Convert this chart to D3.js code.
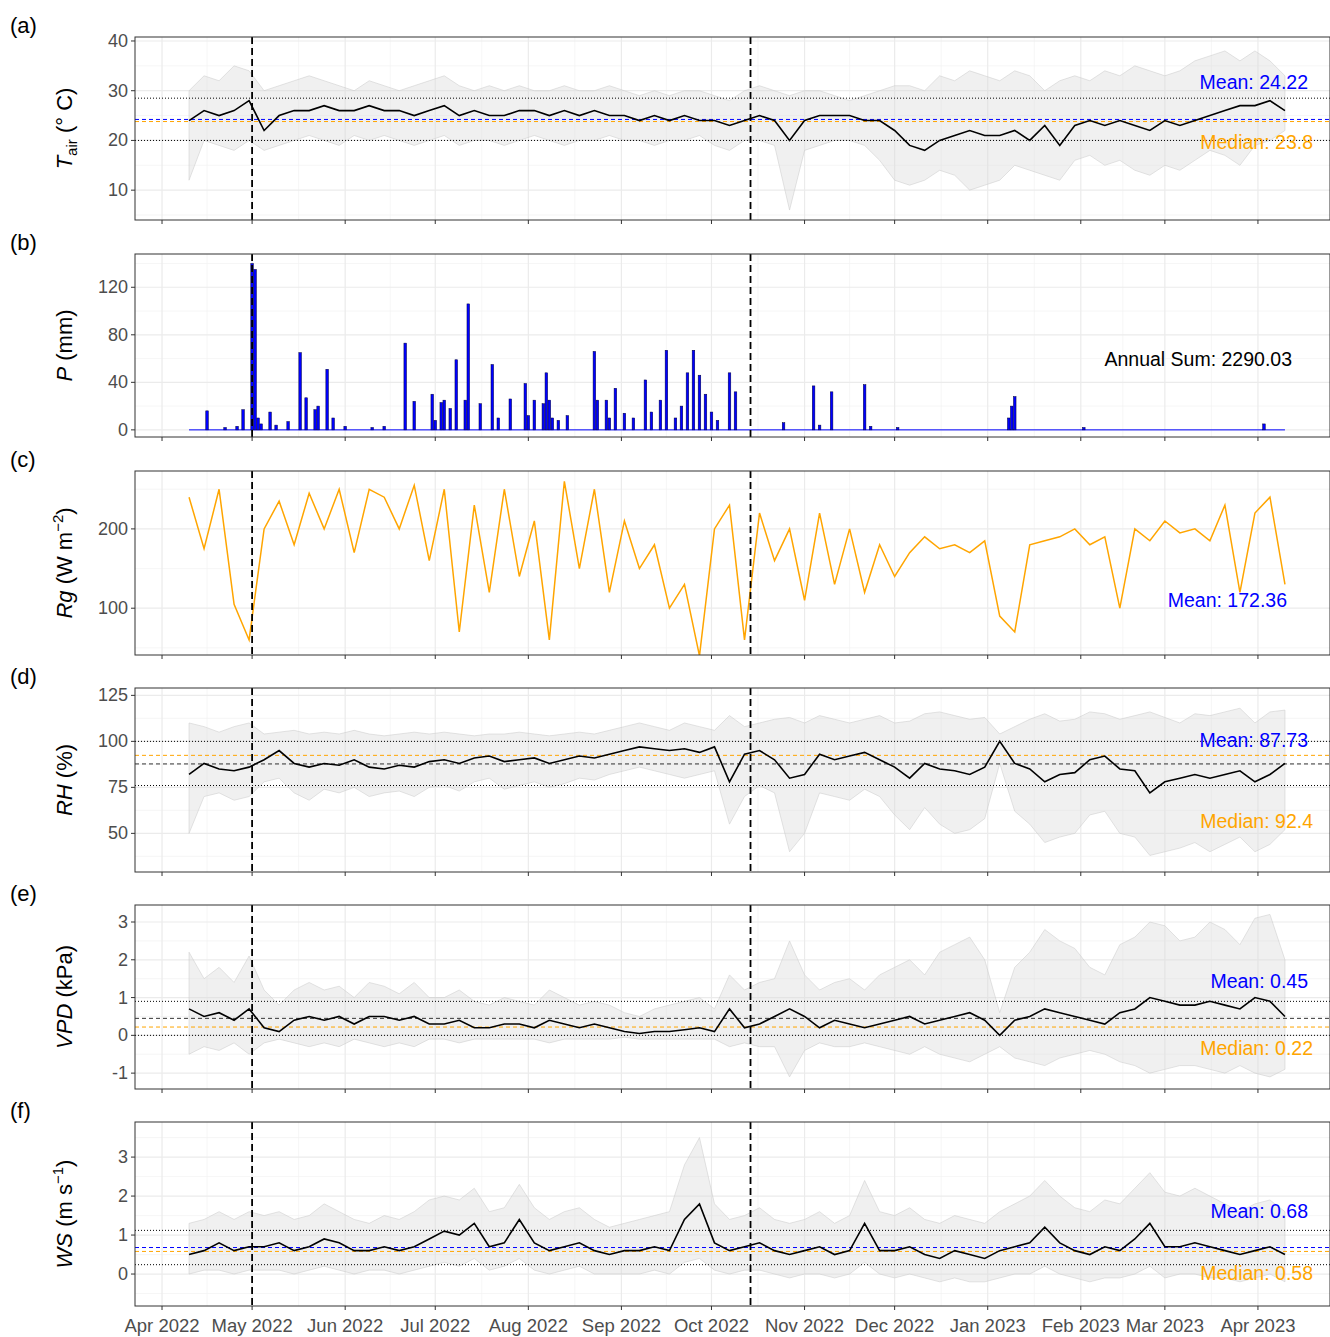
<!DOCTYPE html>
<html><head><meta charset="utf-8">
<script src="https://cdn.jsdelivr.net/npm/d3@7"></script>
<style>body{margin:0;background:#fff}text{font-family:Arial,"Liberation Sans",sans-serif}</style>
</head><body><svg id="c" width="1330" height="1337"></svg>
<script>
const startDate="2022-04-10", stepDays=5;
const tairMean=[24,26,25,26,28,22,25,26,26,27,26,26,27,26,26,25,26,27,25,26,25,25,26,26,25,26,25,26,25,25,24,25,24,25,24,24,23,24,25,24,20,24,25,25,25,24,24,22,19,18,20,21,22,21,21,22,20,23,19,23,24,23,24,23,22,24,23,24,25,26,27,27,28,26];
const tairHi=[30,33,32,35,34,30,31,32,33,32,31,30,32,31,30,31,32,33,31,30,31,30,31,30,30,31,30,30,31,30,29,30,29,30,30,29,28,30,31,30,29,30,30,29,28,29,30,31,31,30,33,32,34,33,32,34,33,30,32,33,32,34,33,35,34,33,34,36,37,38,36,38,36,33];
const tairLo=[12,20,19,18,20,18,19,20,21,20,19,21,20,21,20,19,20,21,19,20,20,19,20,21,20,19,20,20,21,20,20,19,20,20,21,19,18,20,20,19,6,18,19,20,20,19,16,12,11,12,14,13,10,11,12,15,14,13,12,16,17,15,16,14,13,15,14,16,18,17,15,19,20,22];
const rhMean=[82,88,85,84,86,90,95,88,86,88,87,90,86,85,87,86,89,90,88,91,92,89,90,91,88,90,92,91,93,95,97,96,95,96,94,97,78,93,95,90,80,82,93,90,92,94,90,86,80,88,85,84,82,86,100,88,85,78,82,83,90,92,85,84,72,78,80,82,80,82,84,78,82,88];
const rhHi=[110,108,105,108,110,104,105,106,104,105,104,106,104,103,104,105,104,105,104,103,104,104,105,104,103,104,105,104,106,108,110,108,106,110,108,106,114,108,110,112,113,110,114,112,110,112,114,110,111,115,116,114,112,113,104,108,112,115,111,112,116,115,112,114,116,113,110,115,114,116,118,110,116,117];
const rhLo=[50,70,72,68,70,78,80,72,68,74,72,75,70,72,73,70,75,76,73,78,80,74,76,78,75,77,80,79,82,84,86,84,82,80,82,84,55,70,76,72,40,50,72,70,68,74,70,60,52,64,55,50,52,58,88,62,55,45,48,50,60,62,50,48,38,40,42,45,40,44,48,40,44,52];
const vpdMean=[0.7,0.5,0.6,0.4,0.7,0.2,0.1,0.4,0.5,0.4,0.5,0.3,0.5,0.5,0.4,0.5,0.3,0.3,0.4,0.2,0.2,0.3,0.3,0.2,0.4,0.3,0.2,0.3,0.2,0.1,0.05,0.1,0.1,0.15,0.2,0.1,0.7,0.2,0.3,0.5,0.7,0.5,0.2,0.4,0.3,0.2,0.3,0.4,0.5,0.3,0.4,0.5,0.6,0.4,0.0,0.4,0.5,0.7,0.6,0.5,0.4,0.3,0.6,0.7,1.0,0.9,0.8,0.8,0.9,0.8,0.7,1.0,0.9,0.5];
const vpdHi=[2.2,1.5,1.8,1.4,2.1,1.2,0.8,1.2,1.4,1.2,1.3,1.0,1.4,1.3,1.1,1.4,1.0,1.0,1.2,0.9,0.8,1.0,0.9,0.8,1.2,1.0,0.8,0.9,0.8,0.6,0.5,0.7,0.8,0.9,1.0,0.7,1.6,1.2,1.4,1.5,2.5,1.6,1.2,1.4,1.5,1.2,1.6,1.8,2.0,1.6,2.2,2.4,2.6,2.0,0.6,1.8,2.2,2.8,2.5,2.3,1.8,1.6,2.4,2.6,3.0,2.9,2.5,2.6,3.0,2.8,2.4,3.1,3.2,2.0];
const vpdLo=[-0.5,-0.3,-0.4,-0.2,-0.5,-0.2,-0.1,-0.2,-0.3,-0.2,-0.3,-0.1,-0.2,-0.3,-0.2,-0.3,-0.1,-0.1,-0.2,-0.1,-0.1,-0.1,-0.1,-0.1,-0.2,-0.1,-0.1,-0.1,-0.1,-0.05,-0.1,-0.1,-0.1,-0.1,-0.1,-0.1,-0.3,-0.2,-0.3,-0.3,-1.1,-0.4,-0.2,-0.3,-0.3,-0.2,-0.3,-0.4,-0.5,-0.3,-0.5,-0.6,-0.7,-0.5,-0.3,-0.6,-0.7,-0.8,-0.6,-0.5,-0.4,-0.5,-0.7,-0.8,-1.0,-0.9,-0.8,-0.8,-0.9,-1.0,-0.8,-1.0,-1.1,-0.9];
const wsMean=[0.5,0.6,0.8,0.6,0.7,0.7,0.8,0.6,0.7,0.9,0.8,0.6,0.6,0.7,0.6,0.7,0.9,1.1,1.0,1.3,0.7,0.8,1.4,0.8,0.6,0.7,0.8,0.6,0.5,0.6,0.6,0.7,0.6,1.4,1.8,0.8,0.6,0.7,0.8,0.6,0.5,0.6,0.7,0.5,0.6,1.3,0.6,0.6,0.7,0.5,0.4,0.6,0.5,0.4,0.6,0.7,0.8,1.2,0.8,0.6,0.5,0.7,0.6,0.9,1.3,0.7,0.7,0.8,0.7,0.6,0.5,0.6,0.7,0.5];
const wsHi=[1.3,1.4,1.6,1.4,1.6,1.5,1.6,1.4,1.5,1.8,1.6,1.4,1.3,1.5,1.4,1.6,1.9,2.0,1.9,2.2,1.6,1.7,2.3,1.7,1.4,1.6,1.7,1.4,1.2,1.3,1.4,1.5,1.6,2.8,3.5,1.8,1.4,1.5,1.7,1.4,1.3,1.4,1.6,1.3,1.5,2.4,1.6,1.5,1.7,1.4,1.3,1.5,1.4,1.3,1.6,1.8,2.0,2.4,2.0,1.7,1.6,1.9,1.8,2.2,2.6,2.1,2.0,2.2,2.0,1.8,1.6,1.8,1.9,1.6];
const wsLo=[0.0,0.1,0.1,0.0,0.1,0.1,0.1,0.0,0.1,0.2,0.1,0.0,0.1,0.1,0.0,0.1,0.2,0.3,0.2,0.4,0.1,0.2,0.4,0.1,0.0,0.1,0.2,0.0,0.0,0.0,0.0,0.1,0.0,0.3,0.4,0.1,0.0,0.1,0.1,0.0,-0.1,0.0,0.0,-0.1,0.0,0.3,0.0,-0.1,0.0,-0.1,-0.2,-0.1,-0.2,-0.2,-0.1,0.0,0.0,0.2,0.0,-0.1,-0.2,-0.1,-0.1,0.0,0.2,-0.1,0.0,0.0,-0.1,-0.1,-0.2,-0.1,0.0,-0.2];
const rg=[240,175,250,105,60,200,235,180,245,200,250,170,250,240,200,255,160,250,70,230,120,250,140,210,60,260,150,250,120,210,150,180,100,130,40,200,230,60,220,160,200,110,220,130,200,120,180,140,170,190,175,180,170,185,90,70,180,185,190,200,180,190,100,200,185,210,195,200,185,230,120,220,240,130];
const precipDates=["2022-04-16","2022-04-22","2022-04-26","2022-04-28","2022-05-01","2022-05-02","2022-05-03","2022-05-04","2022-05-07","2022-05-09","2022-05-13","2022-05-17","2022-05-19","2022-05-22","2022-05-23","2022-05-26","2022-05-28","2022-06-01","2022-06-10","2022-06-14","2022-06-21","2022-06-24","2022-06-30","2022-07-01","2022-07-03","2022-07-04","2022-07-06","2022-07-08","2022-07-11","2022-07-12","2022-07-16","2022-07-20","2022-07-22","2022-07-26","2022-07-31","2022-08-01","2022-08-03","2022-08-06","2022-08-07","2022-08-08","2022-08-09","2022-08-11","2022-08-14","2022-08-23","2022-08-24","2022-08-27","2022-08-28","2022-08-30","2022-09-02","2022-09-05","2022-09-09","2022-09-11","2022-09-14","2022-09-16","2022-09-19","2022-09-21","2022-09-23","2022-09-25","2022-09-27","2022-09-29","2022-10-01","2022-10-03","2022-10-07","2022-10-09","2022-10-25","2022-11-04","2022-11-06","2022-11-10","2022-11-21","2022-11-23","2022-12-02","2023-01-08","2023-01-09","2023-01-10","2023-02-02","2023-04-03"];
const precipVals=[16,2,3,17,140,135,10,5,15,4,7,65,27,17,20,51,10,3,2,3,73,24,30,8,23,25,18,59,25,106,22,55,10,26,39,12,25,22,48,25,10,8,12,66,25,25,10,35,14,10,42,15,25,67,10,20,48,67,46,30,15,8,48,32,6,37,4,32,38,3,2,10,20,28,2,5];
const monthTicks=["2022-04-01","2022-05-01","2022-06-01","2022-07-01","2022-08-01","2022-09-01","2022-10-01","2022-11-01","2022-12-01","2023-01-01","2023-02-01","2023-03-01","2023-04-01"];
const monthLabels=["Apr 2022","May 2022","Jun 2022","Jul 2022","Aug 2022","Sep 2022","Oct 2022","Nov 2022","Dec 2022","Jan 2023","Feb 2023","Mar 2023","Apr 2023"];
const vlines=["2022-05-01","2022-10-14"];

const P=d3.timeParse("%Y-%m-%d");
const dates=tairMean.map((_,i)=>d3.timeDay.offset(P(startDate),i*stepDays));
const svg=d3.select("#c");
const L=135,R=1330;
const x=d3.scaleTime().domain([P("2022-03-23"),P("2023-04-25")]).range([L,R]);
const panels=[
 {lab:"(a)",top:37,bot:220,dom:[4,40.8],ticks:[10,20,30,40],mean:tairMean,hi:tairHi,lo:tairLo,
  hl:[[28.5,"#000","1,2"],[20,"#000","1,2"],[23.8,"orange","4,3"],[24.22,"blue","4,3"]],
  txt:[["Mean: 24.22","blue",-37],["Median: 23.8","orange",23]],ylab:[["T","i"],["air","sub"],[" (° C)",""]]},
 {lab:"(b)",top:254,bot:437,dom:[-6,148],ticks:[0,40,80,120],ylab:[["P","i"],[" (mm)",""]]},
 {lab:"(c)",top:471,bot:655,dom:[41,273],ticks:[100,200],ylab:[["Rg","i"],[" (W m",""],["−2","sup"],[")",""]]},
 {lab:"(d)",top:688,bot:872,dom:[29,129],ticks:[50,75,100,125],mean:rhMean,hi:rhHi,lo:rhLo,
  hl:[[100,"#000","1,2"],[76,"#000","1,2"],[92.4,"orange","4,3"],[87.73,"#333","4,3"]],
  txt:[["Mean: 87.73","blue",-24],["Median: 92.4","orange",57]],ylab:[["RH","i"],[" (%)",""]]},
 {lab:"(e)",top:905,bot:1089,dom:[-1.42,3.45],ticks:[-1,0,1,2,3],mean:vpdMean,hi:vpdHi,lo:vpdLo,
  hl:[[0.9,"#000","1,2"],[0.0,"#000","1,2"],[0.22,"orange","4,3"],[0.45,"#333","4,3"]],
  txt:[["Mean: 0.45","blue",-37],["Median: 0.22","orange",30]],ylab:[["VPD","i"],[" (kPa)",""]]},
 {lab:"(f)",top:1122,bot:1306,dom:[-0.82,3.9],ticks:[0,1,2,3],mean:wsMean,hi:wsHi,lo:wsLo,
  hl:[[1.12,"#000","1,2"],[0.24,"#000","1,2"],[0.58,"orange","4,3"],[0.68,"blue","4,3"]],
  txt:[["Mean: 0.68","blue",-37],["Median: 0.58","orange",25]],ylab:[["WS","i"],[" (m s",""],["−1","sup"],[")",""]]}
];
panels.forEach((p,k)=>{
 const y=d3.scaleLinear().domain(p.dom).range([p.bot,p.top]);
 const g=svg.append("g");
 g.append("rect").attr("x",L).attr("y",p.top).attr("width",R-L).attr("height",p.bot-p.top).attr("fill","#fff");
 const mt=monthTicks.map(P);
 mt.forEach((d,i)=>{ if(i<mt.length-1){const m=new Date((+d + +mt[i+1])/2); g.append("line").attr("x1",x(m)).attr("x2",x(m)).attr("y1",p.top).attr("y2",p.bot).attr("stroke","#f2f2f2").attr("stroke-width",0.7);} });
 const st=p.ticks[1]-p.ticks[0];
 for(let v=p.ticks[0]-st/2; v<=p.dom[1]; v+=st){ if(v>=p.dom[0]) g.append("line").attr("x1",L).attr("x2",R).attr("y1",y(v)).attr("y2",y(v)).attr("stroke","#f2f2f2").attr("stroke-width",0.7);}
 mt.forEach(d=>g.append("line").attr("x1",x(d)).attr("x2",x(d)).attr("y1",p.top).attr("y2",p.bot).attr("stroke","#ebebeb").attr("stroke-width",1.2));
 p.ticks.forEach(v=>g.append("line").attr("x1",L).attr("x2",R).attr("y1",y(v)).attr("y2",y(v)).attr("stroke","#ebebeb").attr("stroke-width",1.2));
 const cl="clip"+k;
 svg.append("clipPath").attr("id",cl).append("rect").attr("x",L).attr("y",p.top).attr("width",R-L).attr("height",p.bot-p.top);
 const c=g.append("g").attr("clip-path",`url(#${cl})`);
 if(p.mean){
  c.append("path").datum(dates.map((d,i)=>i)).attr("fill","#d9d9d9").attr("fill-opacity",0.4).attr("stroke","#c8c8c8").attr("stroke-width",0.5)
   .attr("d",d3.area().x(i=>x(dates[i])).y0(i=>y(p.lo[i])).y1(i=>y(p.hi[i])));
  p.hl.forEach(h=>c.append("line").attr("x1",L).attr("x2",R).attr("y1",y(h[0])).attr("y2",y(h[0])).attr("stroke",h[1]).attr("stroke-width",1).attr("stroke-dasharray",h[2]));
  c.append("path").datum(p.mean).attr("fill","none").attr("stroke","#000").attr("stroke-width",1.6)
   .attr("d",d3.line().x((v,i)=>x(dates[i])).y(v=>y(v)));
 }
 if(k===1){
  c.append("line").attr("x1",x(dates[0])).attr("x2",x(dates[dates.length-1])).attr("y1",y(0)).attr("y2",y(0)).attr("stroke","blue").attr("stroke-width",1);
  precipDates.forEach((d,i)=>{const dd=P(d); c.append("rect").attr("x",x(dd)-1.3).attr("width",2.6).attr("y",y(precipVals[i])).attr("height",y(0)-y(precipVals[i])).attr("fill","blue").attr("stroke","#00003a").attr("stroke-width",0.5);});
  g.append("text").attr("x",1292).attr("y",366).attr("text-anchor","end").attr("font-size",19.5).text("Annual Sum: 2290.03");
 }
 if(k===2){
  c.append("path").datum(rg).attr("fill","none").attr("stroke","orange").attr("stroke-width",1.5)
   .attr("d",d3.line().x((v,i)=>x(dates[i])).y(v=>y(v)));
  g.append("text").attr("x",1287).attr("y",607).attr("text-anchor","end").attr("font-size",19.5).attr("fill","blue").text("Mean: 172.36");
 }
 vlines.forEach(d=>c.append("line").attr("x1",x(P(d))).attr("x2",x(P(d))).attr("y1",p.top).attr("y2",p.bot).attr("stroke","#000").attr("stroke-width",1.8).attr("stroke-dasharray","7,4"));
 if(p.txt){ const ym=y(p.hl[3][0]); p.txt.forEach(t=>g.append("text").attr("x",t[0].startsWith("Mean")?1308:1313).attr("y",ym+t[2]+7).attr("text-anchor","end").attr("font-size",19.5).attr("fill",t[1]).text(t[0])); }
 g.append("rect").attr("x",L).attr("y",p.top).attr("width",R-L).attr("height",p.bot-p.top).attr("fill","none").attr("stroke","#333").attr("stroke-width",1);
 p.ticks.forEach(v=>{g.append("line").attr("x1",L-4).attr("x2",L).attr("y1",y(v)).attr("y2",y(v)).attr("stroke","#333");
  g.append("text").attr("x",L-7).attr("y",y(v)+6).attr("text-anchor","end").attr("font-size",18).attr("fill","#4d4d4d").text(v);});
 mt.forEach((d,i)=>{g.append("line").attr("x1",x(d)).attr("x2",x(d)).attr("y1",p.bot).attr("y2",p.bot+4).attr("stroke","#333");
  if(k===5) g.append("text").attr("x",x(d)).attr("y",p.bot+26).attr("text-anchor","middle").attr("font-size",18.5).attr("fill","#4d4d4d").text(monthLabels[i]);});
 g.append("text").attr("x",10).attr("y",p.top-4).attr("font-size",22).text(p.lab);
 const yt=g.append("text").attr("transform",`translate(72,${(p.top+p.bot)/2}) rotate(-90)`).attr("text-anchor","middle").attr("font-size",22);
 p.ylab.forEach(s=>{const t=yt.append("tspan").text(s[0]);
  if(s[1]==="i") t.attr("font-style","italic");
  if(s[1]==="sub") t.attr("font-size",15).attr("dy",5);
  if(s[1]==="sup") t.attr("font-size",15).attr("dy",-9);
  if(s[1]===""&&(s[0].startsWith(" (")||s[0]===")")) { const prev=yt.selectAll("tspan").nodes(); if(prev.length>1){ const ps=d3.select(prev[prev.length-2]).attr("dy"); if(ps) t.attr("dy",-(+ps)); } }
 });
});
</script></body></html>
